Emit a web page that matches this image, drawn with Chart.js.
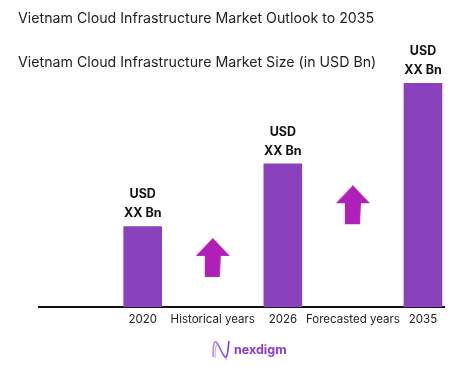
<!DOCTYPE html>
<html>
<head>
<meta charset="utf-8">
<script src="https://cdn.jsdelivr.net/npm/chart.js@4/dist/chart.umd.min.js"></script>
<style>
    html, body { margin: 0; padding: 0; background: #fff; }
    #wrap { width: 469px; height: 366px; }
</style>
</head>
<body>
<div id="wrap"><canvas id="marketChart"></canvas></div>
<script>
// chart data
const categories = ['2020', 'Historical years', '2026', 'Forecasted years', '2035'];
const barSlots = [0, 2, 4];
const barValues = [3.6, 6.4, 10];
const barLabels = [['USD', 'XX Bn'], ['USD', 'XX Bn'], ['USD', 'XX Bn']];
const arrowSlots = [1, 3];
const arrowValues = [2.2, 4.55];

const titleText = 'Vietnam Cloud Infrastructure Market Outlook to 2035';
const subtitleText = 'Vietnam Cloud Infrastructure Market Size (in USD Bn)';

const FONT = 'Inter, "Noto Sans", sans-serif';
const barColor = '#8a41bc';
const arrowColor = '#b01fb9';

// up arrow image used as point style
function makeArrow() {
    const c = document.createElement('canvas');
    c.width = 34;
    c.height = 40;
    const g = c.getContext('2d');
    g.fillStyle = arrowColor;
    g.beginPath();
    g.moveTo(17, 0);
    g.lineTo(34, 18);
    g.lineTo(25, 18);
    g.lineTo(24, 39);
    g.lineTo(9, 39);
    g.lineTo(9, 18);
    g.lineTo(0, 18);
    g.closePath();
    g.fill();
    return c;
}
const arrowImg = makeArrow();

// "USD / XX Bn" above each bar
const barLabelPlugin = {
    id: 'barLabels',
    afterDatasetsDraw(chart) {
        const ctx = chart.ctx;
        const meta = chart.getDatasetMeta(0);
        ctx.save();
        ctx.fillStyle = '#111';
        ctx.font = 'bold 12.5px ' + FONT;
        ctx.textAlign = 'center';
        ctx.textBaseline = 'middle';
        meta.data.forEach((bar, i) => {
            const lines = barLabels[i];
            ctx.fillText(lines[0], bar.x, bar.y - 32);
            ctx.fillText(lines[1], bar.x, bar.y - 13);
        });
        ctx.restore();
    }
};

// nexdigm logo at the bottom
const logoPlugin = {
    id: 'logo',
    afterDraw(chart) {
        const ctx = chart.ctx;
        ctx.save();
        const grad = ctx.createLinearGradient(212, 0, 230, 0);
        grad.addColorStop(0, '#c58ef0');
        grad.addColorStop(1, '#7b2fd0');
        ctx.strokeStyle = grad;
        ctx.lineWidth = 1.6;
        ctx.beginPath();
        ctx.moveTo(213, 357);
        ctx.bezierCurveTo(213, 345, 214, 341, 216, 342);
        ctx.bezierCurveTo(219, 344, 223, 358, 226, 357);
        ctx.bezierCurveTo(228, 356, 228, 348, 229, 341);
        ctx.stroke();
        ctx.lineWidth = 0.8;
        ctx.beginPath();
        ctx.moveTo(215, 358);
        ctx.bezierCurveTo(215, 348, 216, 344, 218, 345);
        ctx.bezierCurveTo(221, 348, 224, 360, 227, 359);
        ctx.stroke();
        ctx.fillStyle = '#8b38d6';
        ctx.font = 'bold 12.5px ' + FONT;
        ctx.textAlign = 'left';
        ctx.textBaseline = 'middle';
        ctx.fillText('nexdigm', 234, 350);
        ctx.restore();
    }
};

const ctx = document.getElementById('marketChart').getContext('2d');
new Chart(ctx, {
    type: 'bar',
    data: {
        datasets: [{
            data: barSlots.map((s, i) => ({ x: s, y: barValues[i] })),
            backgroundColor: barColor,
            barThickness: 38,
            borderWidth: 0
        }, {
            type: 'line',
            data: arrowSlots.map((s, i) => ({ x: s, y: arrowValues[i] })),
            showLine: false,
            pointStyle: arrowImg,
            pointRadius: 10,
            pointHoverRadius: 10
        }]
    },
    options: {
        responsive: true,
        maintainAspectRatio: false,
        animation: false,
        layout: {
            padding: { top: 0, left: 18, right: 25, bottom: 35 }
        },
        plugins: {
            legend: { display: false },
            tooltip: { enabled: false },
            title: {
                display: true,
                text: titleText,
                align: 'start',
                color: '#222',
                font: { family: FONT, size: 14.2, weight: 'normal' },
                padding: { top: 10, bottom: 0 }
            },
            subtitle: {
                display: true,
                text: subtitleText,
                align: 'start',
                color: '#222',
                font: { family: FONT, size: 14.2, weight: 'normal' },
                padding: { top: 27, bottom: 12 }
            }
        },
        scales: {
            x: {
                type: 'linear',
                min: -1.48,
                max: 4.3,
                offset: false,
                grid: { display: false, drawTicks: false },
                border: { display: true, color: '#111', width: 2 },
                afterBuildTicks: (scale) => {
                    scale.ticks = categories.map((c, i) => ({ value: i }));
                },
                ticks: {
                    autoSkip: false,
                    maxRotation: 0,
                    padding: 5,
                    color: '#222',
                    font: { family: FONT, size: 11.5 },
                    callback: (v) => categories[v]
                }
            },
            y: {
                min: 0,
                max: 10,
                grid: { display: false },
                border: { display: false },
                ticks: { display: false },
                afterFit: (scale) => { scale.width = 21; }
            }
        }
    },
    plugins: [barLabelPlugin, logoPlugin]
});
</script>
</body>
</html>
